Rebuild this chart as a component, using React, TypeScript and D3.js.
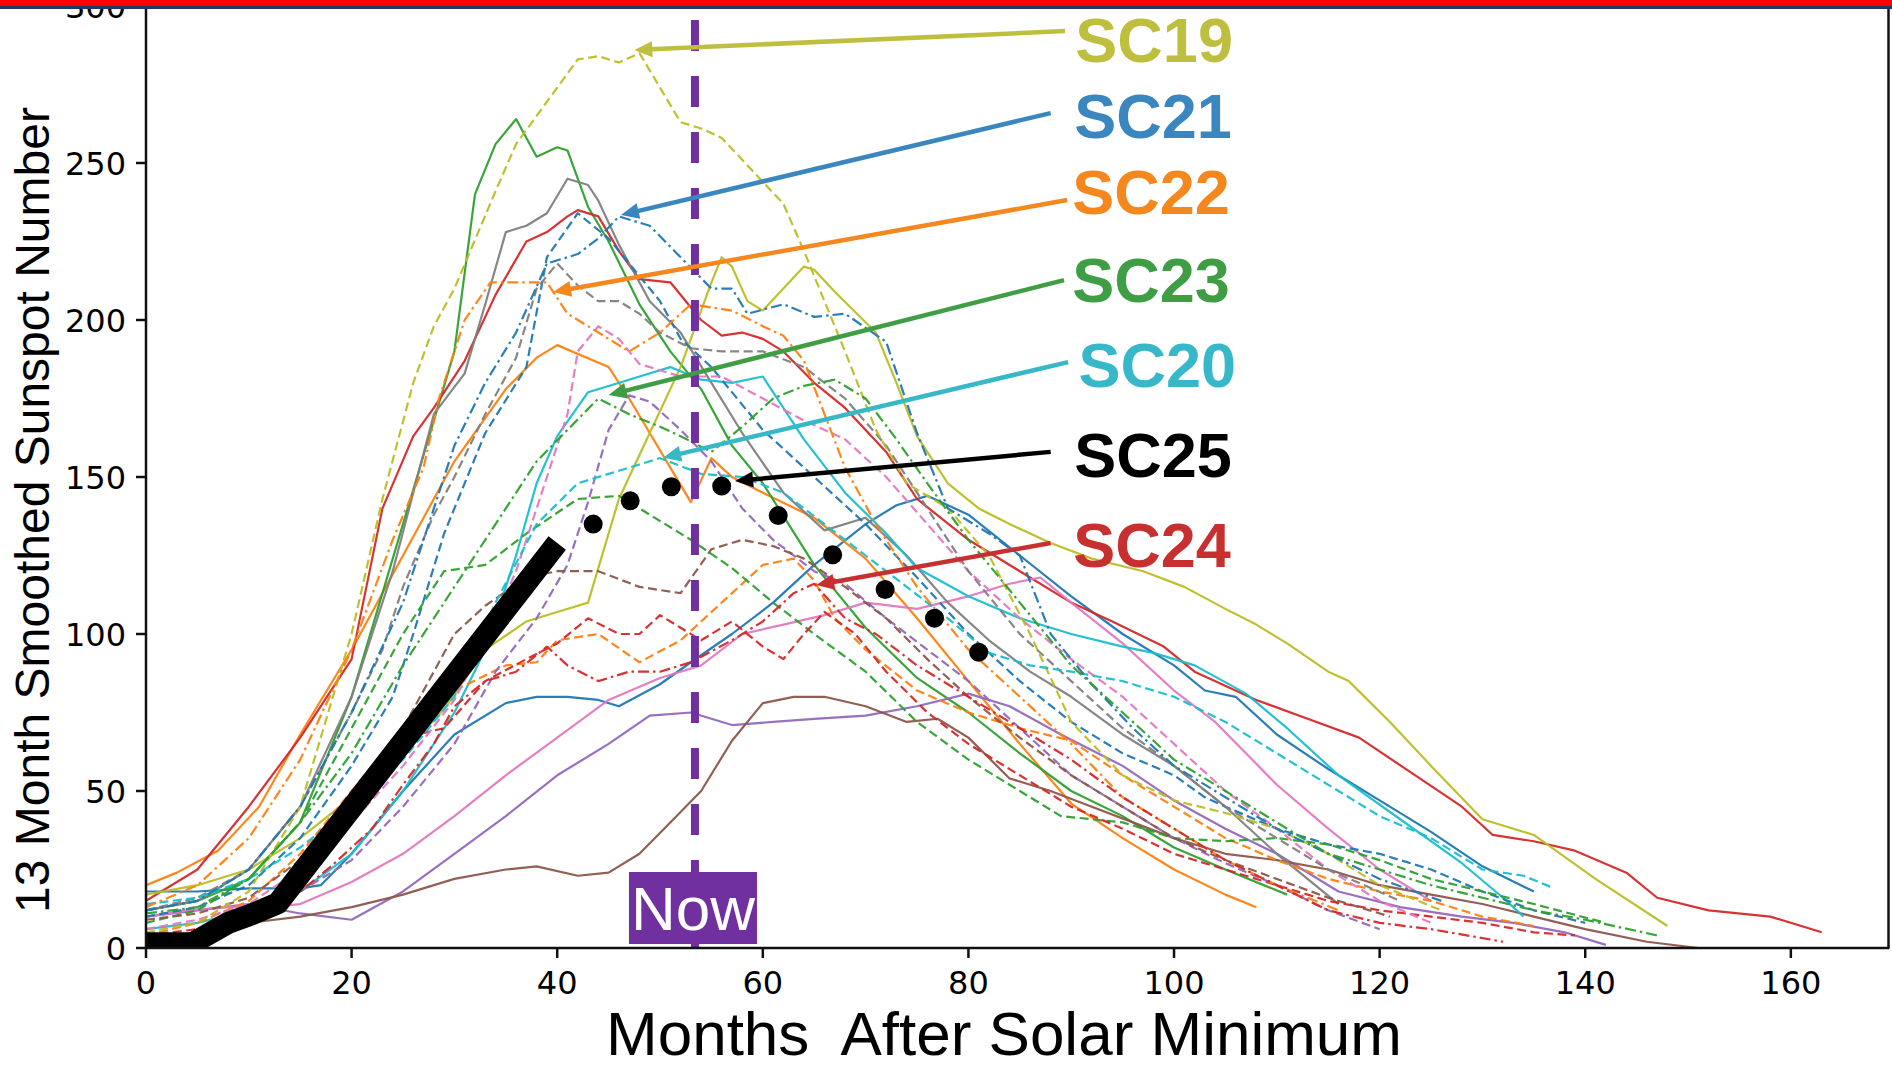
import React from 'react';
import * as d3 from 'd3';

type Pt = [number, number];

// months after minimum, 13-month smoothed sunspot number
const sc1: Pt[] = [[0, 18], [5, 18], [10, 19], [15, 19], [17, 20], [20, 30], [25, 50], [30, 68], [35, 78], [38, 80], [41, 80], [44, 79], [46, 77], [50, 84], [53, 91], [57, 100], [61, 110], [65, 122], [70, 135], [73, 141], [76, 144], [80, 138], [85, 125], [90, 112], [95, 100], [100, 90], [103, 82], [106, 80], [110, 68], [115, 57], [120, 47], [125, 37], [130, 26], [135, 18]];
const sc2: Pt[] = [[0, 20], [3, 24], [7, 31], [11, 45], [15, 68], [20, 95], [25, 125], [30, 155], [35, 178], [38, 188], [40, 192], [45, 185], [47, 175], [49, 164], [51, 153], [53, 142], [55, 156], [57, 150], [60, 145], [65, 137], [70, 124], [75, 105], [80, 85], [85, 65], [90, 46], [95, 35], [100, 25], [105, 17], [108, 13]];
const sc3: Pt[] = [[0, 12], [5, 15], [10, 22], [15, 40], [20, 80], [25, 135], [28, 168], [30, 190], [32, 240], [34, 256], [36, 264], [38, 252], [40, 255], [41, 254], [43, 236], [45, 225], [48, 205], [51, 190], [54, 178], [57, 160], [60, 148], [65, 122], [70, 102], [75, 86], [80, 75], [85, 62], [90, 50], [95, 42], [100, 32], [105, 25], [111, 17]];
const sc4: Pt[] = [[0, 15], [5, 25], [10, 45], [15, 67], [20, 92], [23, 140], [26, 163], [28, 172], [31, 187], [34, 208], [37, 225], [39, 228], [41, 233], [42, 235], [44, 233], [46, 222], [48, 213], [51, 212], [54, 200], [56, 195], [58, 196], [60, 194], [62, 190], [65, 180], [68, 172], [72, 158], [75, 143], [80, 130], [85, 120], [90, 110], [94, 104], [99, 96], [102, 88], [108, 79], [113, 73], [118, 67], [123, 56], [128, 45], [131, 36], [135, 34], [139, 31], [144, 24], [147, 16], [152, 12], [158, 10], [163, 5]];
const sc5: Pt[] = [[0, 10], [5, 12], [10, 14], [15, 11], [20, 9], [25, 18], [30, 30], [35, 42], [40, 55], [45, 65], [49, 74], [53, 75], [57, 71], [61, 72], [65, 73], [70, 74], [75, 77], [80, 81], [84, 77], [89, 68], [95, 58], [100, 47], [105, 38], [110, 30], [116, 18], [122, 13], [128, 10], [133, 8], [138, 5], [142, 1]];
const sc6: Pt[] = [[0, 1], [5, 3], [10, 8], [15, 10], [20, 13], [25, 17], [30, 22], [35, 25], [38, 26], [42, 23], [45, 24], [48, 30], [51, 40], [54, 50], [57, 66], [60, 78], [63, 80], [66, 80], [70, 77], [74, 72], [77, 73], [80, 67], [84, 54], [88, 50], [92, 45], [96, 40], [100, 35], [105, 30], [110, 28], [115, 25], [120, 20], [125, 17], [130, 14], [135, 10], [140, 6], [146, 2], [151, 0]];
const sc7: Pt[] = [[0, 10], [4, 12], [8, 13], [12, 13], [15, 14], [20, 21], [25, 30], [30, 42], [35, 55], [40, 67], [45, 79], [50, 86], [54, 90], [58, 100], [62, 103], [66, 106], [70, 110], [75, 108], [80, 112], [84, 116], [87, 118], [90, 110], [95, 97], [100, 82], [104, 72], [110, 52], [115, 38], [120, 25], [125, 15]];
const sc8: Pt[] = [[0, 12], [5, 15], [10, 25], [15, 45], [20, 80], [24, 120], [28, 170], [31, 183], [33, 205], [35, 228], [37, 230], [39, 234], [41, 245], [43, 243], [44, 238], [46, 224], [49, 206], [52, 196], [55, 180], [58, 164], [62, 145], [66, 133], [70, 137], [74, 125], [78, 110], [82, 98], [86, 88], [90, 80], [95, 68], [100, 58], [105, 45], [110, 30], [116, 14]];
const sc9: Pt[] = [[0, 17], [5, 20], [10, 25], [15, 35], [20, 48], [25, 62], [29, 76], [33, 95], [37, 104], [40, 107], [43, 110], [46, 143], [49, 164], [52, 185], [55, 212], [56, 220], [57, 217], [58.5, 206], [60, 203], [62, 210], [64, 217], [65, 216], [67, 209], [71, 196], [73, 180], [75, 163], [78, 148], [81, 140], [84, 135], [88, 129], [92, 124], [97, 120], [101, 115], [105, 108], [108, 103], [111, 97], [115, 88], [117, 85], [121, 72], [125, 58], [130, 41], [135, 36], [141, 22], [148, 7]];
const sc10: Pt[] = [[0, 6], [5, 8], [10, 12], [15, 18], [20, 30], [25, 50], [30, 75], [33, 95], [36, 125], [38, 148], [40, 163], [43, 177], [45, 179], [48, 182], [51, 185], [54, 181], [57, 180], [60, 182], [62, 172], [64, 162], [68, 145], [72, 132], [75, 121], [80, 112], [85, 105], [90, 100], [95, 96], [98, 94], [102, 90], [107, 81], [111, 70], [116, 55], [122, 41], [128, 27], [132, 16], [134, 10]];
const sc11: Pt[] = [[0, 10], [5, 13], [10, 20], [15, 35], [20, 58], [24, 80], [26, 100], [29, 132], [33, 164], [37, 185], [39, 220], [42, 234], [45, 226], [50, 206], [52, 194], [55, 185], [60, 165], [65, 150], [70, 135], [75, 118], [80, 100], [85, 85], [90, 72], [95, 62], [100, 55], [103, 48], [105, 45], [110, 38], [115, 33], [120, 30], [125, 25], [130, 18], [135, 12], [140, 8]];
const sc12: Pt[] = [[0, 4], [5, 8], [10, 15], [15, 30], [20, 50], [25, 70], [30, 82], [35, 90], [38, 91], [40, 98], [44, 100], [48, 91], [52, 98], [56, 110], [60, 122], [63, 124], [65, 117], [67, 105], [70, 95], [75, 82], [80, 75], [85, 70], [90, 66], [95, 55], [100, 45], [105, 35], [110, 28], [115, 22], [120, 18], [125, 15], [130, 10], [135, 7]];
const sc13: Pt[] = [[0, 8], [5, 12], [10, 22], [15, 40], [20, 70], [25, 100], [29, 120], [33, 122], [37, 132], [42, 143], [46, 144], [49, 138], [53, 130], [57, 121], [61, 110], [65, 100], [70, 88], [75, 72], [80, 60], [85, 50], [89, 42], [95, 40], [100, 35], [105, 34], [110, 35], [115, 33], [120, 28], [125, 22], [130, 18], [135, 14], [142, 8]];
const sc14: Pt[] = [[0, 4], [5, 6], [10, 10], [15, 20], [20, 40], [25, 67], [29, 70], [33, 85], [37, 92], [40, 97], [43, 105], [46, 100], [48, 100], [50, 106], [52, 102], [54, 98], [57, 104], [60, 96], [62, 92], [64, 100], [66, 107], [69, 100], [72, 88], [76, 75], [80, 65], [85, 55], [90, 45], [95, 38], [100, 30], [105, 25], [110, 20], [115, 15], [120, 12], [125, 10], [130, 8], [135, 5], [139, 4]];
const sc15: Pt[] = [[0, 3], [5, 5], [10, 10], [15, 18], [20, 28], [25, 45], [30, 65], [34, 88], [38, 105], [41, 122], [43, 142], [45, 165], [47, 176], [49, 174], [52, 165], [55, 155], [58, 140], [61, 130], [65, 120], [68, 116], [72, 105], [76, 95], [80, 85], [85, 70], [90, 55], [95, 45], [100, 35], [105, 27], [110, 20], [115, 12], [120, 6]];
const sc16: Pt[] = [[0, 9], [5, 11], [10, 16], [15, 28], [20, 45], [25, 70], [30, 100], [33, 109], [37, 118], [40, 120], [44, 120], [48, 115], [52, 113], [55, 127], [58, 130], [61, 128], [64, 124], [68, 115], [72, 105], [76, 92], [80, 80], [85, 67], [90, 55], [95, 45], [100, 35], [105, 28], [110, 22], [115, 16], [121, 10]];
const sc17: Pt[] = [[0, 6], [5, 9], [10, 14], [15, 25], [20, 40], [25, 58], [30, 79], [33, 98], [36, 120], [39, 150], [41, 170], [42, 190], [44, 198], [46, 194], [48, 186], [52, 182], [56, 182], [60, 175], [64, 168], [68, 162], [72, 150], [76, 135], [80, 120], [85, 105], [90, 92], [95, 80], [100, 65], [105, 50], [110, 38], [115, 25], [120, 15], [125, 8]];
const sc18: Pt[] = [[0, 12], [5, 16], [10, 25], [15, 45], [20, 75], [23, 95], [25, 115], [28, 138], [30, 150], [33, 170], [36, 188], [38, 210], [40, 218], [42, 211], [44, 206], [46, 206], [48, 202], [50, 196], [53, 191], [56, 190], [60, 190], [64, 185], [68, 175], [72, 160], [76, 140], [80, 120], [85, 100], [90, 85], [95, 70], [100, 58], [105, 45], [110, 35], [115, 25], [122, 15]];
const sc19: Pt[] = [[0, 5], [5, 8], [10, 18], [15, 45], [20, 100], [23, 143], [26, 180], [28, 198], [30, 210], [34, 241], [36, 256], [38, 265], [40, 274], [42, 283], [44, 284], [46, 282], [48, 285], [50, 274], [52, 263], [54, 261], [56, 258], [58, 251], [60, 244], [62, 237], [64, 222], [66, 206], [68, 190], [71, 165], [74, 148], [78, 140], [82, 125], [86, 100], [90, 72], [95, 55], [100, 47], [105, 43], [110, 38], [115, 30], [120, 20], [126, 12]];
const sc20: Pt[] = [[0, 14], [5, 16], [10, 22], [15, 32], [20, 45], [25, 60], [30, 80], [34, 110], [38, 135], [42, 148], [46, 152], [50, 156], [54, 151], [58, 150], [62, 145], [66, 135], [70, 125], [74, 115], [78, 105], [82, 94], [86, 90], [90, 88], [95, 85], [100, 80], [105, 72], [110, 62], [116, 50], [120, 42], [125, 35], [130, 25], [134, 23], [137, 19]];
const sc21: Pt[] = [[0, 12], [5, 15], [10, 25], [15, 45], [20, 75], [25, 110], [30, 160], [33, 180], [36, 196], [39, 218], [42, 221], [44, 226], [46, 233], [49, 230], [52, 220], [55, 210], [57, 210], [58.5, 202], [62, 205], [65, 201], [68, 202], [72, 193], [75, 164], [78, 140], [82, 132], [85, 125], [88, 100], [92, 84], [96, 70], [100, 58], [105, 48], [110, 38], [115, 30], [120, 22], [126, 15]];
const sc22: Pt[] = [[0, 13], [5, 20], [10, 35], [15, 60], [20, 95], [24, 130], [27, 153], [28.5, 175], [31, 200], [33.5, 212], [36.5, 212], [39, 212], [41, 202], [44, 196], [47, 190], [50, 196], [53, 205], [57, 203], [60, 198], [62, 195], [64, 187], [66, 170], [68, 153], [71, 135], [75, 115], [80, 95], [85, 80], [90, 65], [95, 48], [100, 38], [105, 28], [110, 20], [116, 12]];
const sc23: Pt[] = [[0, 11], [5, 13], [10, 22], [15, 40], [20, 62], [25, 90], [30, 115], [34, 135], [38, 155], [41, 165], [44, 175], [47, 170], [50, 166], [52, 163], [55, 158], [58, 166], [61, 175], [64, 179], [67, 181], [70, 175], [73, 162], [76, 148], [80, 130], [85, 110], [90, 90], [95, 75], [100, 60], [105, 50], [110, 40], [115, 30], [120, 25], [125, 20], [130, 16], [135, 12], [140, 9], [147, 4]];
const sc24: Pt[] = [[0, 2], [4, 3], [8, 6], [12, 12], [15, 18], [18, 26], [22, 38], [25, 52], [28, 65], [30, 77], [33, 85], [36, 88], [39, 96], [41, 90], [44, 85], [47, 88], [50, 88], [53, 91], [57, 98], [60, 104], [63, 113], [65, 116], [68, 105], [71, 100], [75, 90], [80, 80], [85, 70], [90, 60], [95, 48], [100, 38], [105, 28], [110, 20], [115, 12], [120, 8], [125, 6], [132, 2]];

const sc25Observed: Pt[] = [[0, 1.5], [4.5, 1.5], [8, 8], [10.5, 11], [12.8, 14.2], [40, 129]];
const sc25Forecast: Pt[] = [[43.5, 135], [47.1, 142.4], [51.1, 146.9], [56, 147.1], [61.5, 137.7], [66.8, 125.2], [71.9, 114.2], [76.7, 105], [81, 94.2]];

const cycles: Pt[][] = [sc1, sc2, sc3, sc4, sc5, sc6, sc7, sc8, sc9, sc10, sc11, sc12, sc13, sc14, sc15, sc16, sc17, sc18, sc19, sc20, sc21, sc22, sc23, sc24];

const nowMonth = 53.4;
const xTicks = [0, 20, 40, 60, 80, 100, 120, 140, 160];
const yTicks = [0, 50, 100, 150, 200, 250, 300];

// annotation labels, arrow tail / tip and label anchor in data units
const labelNames = ['SC19', 'SC21', 'SC22', 'SC23', 'SC20', 'SC25', 'SC24'];
const labelColors = ['#bfbf3f', '#3a86bf', '#f5871f', '#3f9e44', '#36b8c9', '#000000', '#c83030'];
const arrowTails: Pt[] = [[89.4, 292], [88, 265.9], [89.6, 238.2], [89.3, 212.7], [89.7, 186.6], [88, 158], [88, 129]];
const arrowTips: Pt[] = [[47.5, 286], [46.2, 233.4], [39.6, 208.9], [45, 176.1], [50.3, 156.1], [57.3, 148.7], [65.2, 115.6]];
const labelAnchors: Pt[] = [[90.4, 282.2], [90.3, 258], [90.1, 233.8], [90.1, 205.7], [90.7, 178.7], [90.3, 150], [90.2, 121.3]];

const tab10 = ['#1f77b4', '#ff7f0e', '#2ca02c', '#d62728', '#9467bd', '#8c564b', '#e377c2', '#7f7f7f', '#bcbd22', '#17becf'];

const W = 1892;
const H = 1067;

const App: React.FC = () => {
  const x = d3.scaleLinear().domain([0, 169.5]).range([146, 1888.5]);
  const y = d3.scaleLinear().domain([0, 300]).range([948, 6]);

  const line = d3.line<Pt>()
    .x(d => x(d[0]))
    .y(d => y(d[1]));

  const dashFor = (i: number) => (i < 10 ? undefined : i < 20 ? '9,4.5' : '11,4,2.5,4');

  const arrows = labelNames.map((name, i) => {
    const [x1, y1] = [x(arrowTails[i][0]), y(arrowTails[i][1])];
    const [x2, y2] = [x(arrowTips[i][0]), y(arrowTips[i][1])];
    const len = Math.hypot(x2 - x1, y2 - y1);
    const ux = (x2 - x1) / len;
    const uy = (y2 - y1) / len;
    const hl = 18;
    const hw = 8;
    const bx = x2 - ux * hl;
    const by = y2 - uy * hl;
    const head = [
      [x2, y2],
      [bx - uy * hw, by + ux * hw],
      [bx + uy * hw, by - ux * hw],
    ].map(p => p.join(',')).join(' ');
    return { name, color: labelColors[i], x1, y1, ex: bx + ux * 2, ey: by + uy * 2, head };
  });

  const y0 = y(0);
  const xLeft = x(0);
  const xRight = x(169.5);

  return (
    <svg width={W} height={H} style={{ position: 'absolute', left: 0, top: 0, background: '#fff' }}>
      <defs>
        <clipPath id="plotArea">
          <rect x={xLeft} y={0} width={xRight - xLeft} height={y0} />
        </clipPath>
      </defs>
      <rect x={0} y={0} width={W} height={H} fill="#fff" />

      {/* past cycles */}
      <g clipPath="url(#plotArea)" fill="none">
        {cycles.map((c, i) => (
          <path
            key={i}
            d={line(c) || ''}
            stroke={tab10[i % 10]}
            strokeWidth={2.2}
            strokeDasharray={dashFor(i)}
            strokeLinejoin="round"
            opacity={0.95}
          />
        ))}
        {/* SC25 so far */}
        <path
          d={line(sc25Observed) || ''}
          stroke="#000"
          strokeWidth={22}
          strokeLinejoin="round"
          strokeLinecap="butt"
        />
      </g>
      {sc25Forecast.map((d, i) => (
        <circle key={i} cx={x(d[0])} cy={y(d[1])} r={9.5} fill="#000" />
      ))}

      {/* now marker */}
      <line x1={x(nowMonth)} x2={x(nowMonth)} y1={20} y2={y0} stroke="#7030a0" strokeWidth={8} strokeDasharray="31,25" />
      <rect x={x(nowMonth) - 66} y={872} width={128} height={72} fill="#7030a0" />
      <text x={x(nowMonth) - 2} y={930} textAnchor="middle" fill="#fff" fontFamily="Liberation Sans, Arial, sans-serif" fontSize={62}>Now</text>

      {/* annotations */}
      {arrows.map(a => (
        <g key={a.name}>
          <line x1={a.x1} y1={a.y1} x2={a.ex} y2={a.ey} stroke={a.color} strokeWidth={4.5} />
          <polygon points={a.head} fill={a.color} />
        </g>
      ))}
      {labelNames.map((n, i) => (
        <text
          key={n}
          x={x(labelAnchors[i][0])}
          y={y(labelAnchors[i][1])}
          fill={labelColors[i]}
          fontFamily="Liberation Sans, Arial, sans-serif"
          fontWeight="bold"
          fontSize={63}
        >
          {n}
        </text>
      ))}

      {/* axes */}
      <g stroke="#111" strokeWidth={2.5}>
        <line x1={xLeft} x2={xLeft} y1={0} y2={y0} />
        <line x1={xRight} x2={xRight} y1={0} y2={y0} />
        <line x1={xLeft - 1} x2={xRight + 1} y1={y0} y2={y0} />
        {xTicks.map(t => (
          <line key={'xt' + t} x1={x(t)} x2={x(t)} y1={y0} y2={y0 + 10} />
        ))}
        {yTicks.map(t => (
          <line key={'yt' + t} x1={xLeft - 10} x2={xLeft} y1={y(t)} y2={y(t)} />
        ))}
      </g>
      <g fontFamily="DejaVu Sans, sans-serif" fontSize={32} fill="#000">
        {xTicks.map(t => (
          <text key={'xl' + t} x={x(t)} y={994} textAnchor="middle">{t}</text>
        ))}
        {yTicks.map(t => (
          <text key={'yl' + t} x={xLeft - 20} y={y(t) + 11.5} textAnchor="end">{t}</text>
        ))}
      </g>
      <text
        x={1004}
        y={1055}
        textAnchor="middle"
        fontFamily="Liberation Sans, Arial, sans-serif"
        fontSize={62}
        style={{ whiteSpace: 'pre' }}
      >
        {'Months  After Solar Minimum'}
      </text>
      <text
        transform="translate(49,510) rotate(-90)"
        textAnchor="middle"
        fontFamily="Liberation Sans, Arial, sans-serif"
        fontSize={48}
      >
        13 Month Smoothed Sunspot Number
      </text>

      {/* banner strip at the top */}
      <rect x={0} y={0} width={W} height={6} fill="#ff0000" />
      <rect x={0} y={6} width={W} height={3} fill="#203864" />
    </svg>
  );
};

export default App;
